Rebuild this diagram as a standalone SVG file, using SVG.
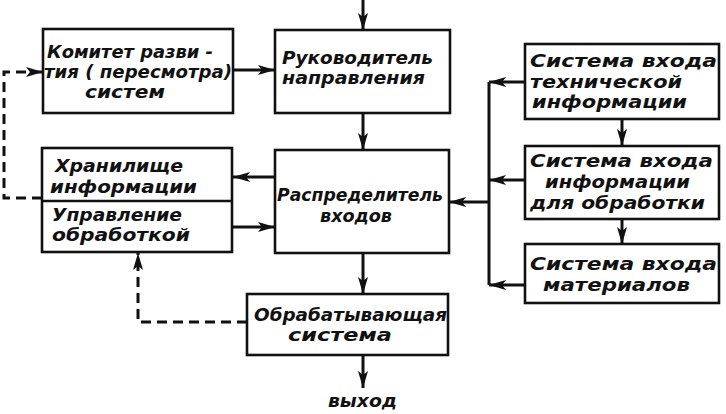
<svg xmlns="http://www.w3.org/2000/svg" width="726" height="414" viewBox="0 0 726 414">
<style>
.box{fill:#fff;stroke:#111;stroke-width:2.6}
.ln{fill:none;stroke:#111;stroke-width:3}
.ds{fill:none;stroke:#111;stroke-width:3;stroke-dasharray:10 6}
text{font-family:"DejaVu Sans","Liberation Sans",sans-serif;font-size:18px;font-weight:bold;font-style:italic;fill:#111}
</style>
<defs>
<marker id="ah" markerUnits="userSpaceOnUse" markerWidth="18" markerHeight="12" refX="17" refY="6" orient="auto">
<path d="M0,1 L17,6 L0,11 L4,6 Z" fill="#111"/>
</marker>
</defs>
<rect width="726" height="414" fill="#fff"/>
<g id="connectors">
<path class="ln" d="M363,0 V30" marker-end="url(#ah)"/>
<path class="ln" d="M233,70 H275" marker-end="url(#ah)"/>
<path class="ln" d="M363,113 V150" marker-end="url(#ah)"/>
<path class="ln" d="M275,177 H233" marker-end="url(#ah)"/>
<path class="ln" d="M232,227 H275" marker-end="url(#ah)"/>
<path class="ln" d="M363,253 V294" marker-end="url(#ah)"/>
<path class="ln" d="M363,355 V388" marker-end="url(#ah)"/>
<path class="ln" d="M489,82 V285"/>
<path class="ln" d="M489,202 H449" marker-end="url(#ah)"/>
<path class="ln" d="M525,82 H489" marker-end="url(#ah)"/>
<path class="ln" d="M525,180 H489" marker-end="url(#ah)"/>
<path class="ln" d="M525,285 H489" marker-end="url(#ah)"/>
<path class="ln" d="M622,119 V146" marker-end="url(#ah)"/>
<path class="ln" d="M622,219 V244" marker-end="url(#ah)"/>
<path class="ds" d="M42,198 H4 V72 H43" marker-end="url(#ah)"/>
<path class="ds" d="M247,322 H138 V253" marker-end="url(#ah)"/>
</g>
<g id="komitet">
<rect class="box" x="43" y="29" width="190" height="84"/>
<text x="47" y="58" textLength="166" lengthAdjust="spacingAndGlyphs">Комитет разви -</text>
<text x="44" y="78" textLength="188" lengthAdjust="spacingAndGlyphs">тия ( пересмотра)</text>
<text x="85" y="98" textLength="80" lengthAdjust="spacingAndGlyphs">систем</text>
</g>
<g id="rukovoditel">
<rect class="box" x="275" y="30" width="175" height="83"/>
<text x="282" y="64" textLength="151" lengthAdjust="spacingAndGlyphs">Руководитель</text>
<text x="282" y="84" textLength="143" lengthAdjust="spacingAndGlyphs">направления</text>
</g>
<g id="raspredelitel">
<rect class="box" x="275" y="150" width="174" height="103"/>
<text x="277" y="201" textLength="166" lengthAdjust="spacingAndGlyphs">Распределитель</text>
<text x="320" y="222" textLength="72" lengthAdjust="spacingAndGlyphs">входов</text>
</g>
<g id="hranilishche">
<rect class="box" x="42" y="148" width="190" height="104"/>
<line x1="42" y1="201" x2="232" y2="201" stroke="#111" stroke-width="2.6"/>
<text x="55" y="172" textLength="128" lengthAdjust="spacingAndGlyphs">Хранилище</text>
<text x="50" y="193" textLength="147" lengthAdjust="spacingAndGlyphs">информации</text>
<text x="52" y="221" textLength="130" lengthAdjust="spacingAndGlyphs">Управление</text>
<text x="52" y="241" textLength="138" lengthAdjust="spacingAndGlyphs">обработкой</text>
</g>
<g id="sys-tech">
<rect class="box" x="525" y="44" width="194" height="75"/>
<text x="530" y="67" textLength="187" lengthAdjust="spacingAndGlyphs">Система входа</text>
<text x="530" y="88" textLength="152" lengthAdjust="spacingAndGlyphs">технической</text>
<text x="532" y="108" textLength="155" lengthAdjust="spacingAndGlyphs">информации</text>
</g>
<g id="sys-info">
<rect class="box" x="525" y="146" width="194" height="73"/>
<text x="530" y="167" textLength="183" lengthAdjust="spacingAndGlyphs">Система входа</text>
<text x="545" y="188" textLength="145" lengthAdjust="spacingAndGlyphs">информации</text>
<text x="530" y="209" textLength="175" lengthAdjust="spacingAndGlyphs">для обработки</text>
</g>
<g id="sys-mat">
<rect class="box" x="525" y="244" width="194" height="59"/>
<text x="530" y="270" textLength="187" lengthAdjust="spacingAndGlyphs">Система входа</text>
<text x="543" y="291" textLength="147" lengthAdjust="spacingAndGlyphs">материалов</text>
</g>
<g id="obrabatyvayushchaya">
<rect class="box" x="247" y="294" width="201" height="61"/>
<text x="254" y="321" textLength="193" lengthAdjust="spacingAndGlyphs">Обрабатывающая</text>
<text x="288" y="341" textLength="104" lengthAdjust="spacingAndGlyphs">система</text>
</g>
<g id="vyhod">
<text x="328" y="407" textLength="69" lengthAdjust="spacingAndGlyphs">выход</text>
</g>
</svg>
